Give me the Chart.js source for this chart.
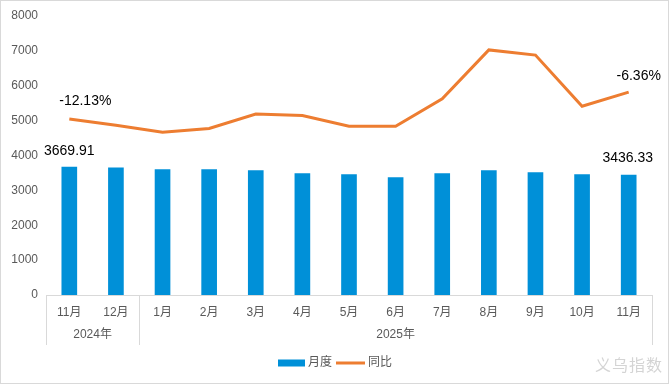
<!DOCTYPE html>
<html>
<head>
<meta charset="utf-8">
<script src="https://cdn.jsdelivr.net/npm/chart.js@4.4.1/dist/chart.umd.min.js"></script>
<style>
  html,body{margin:0;padding:0;background:#fff;}
  #wrap{position:relative;width:669px;height:384px;box-sizing:border-box;border:1px solid #d9d9d9;}
  #c{display:block;}
  #mark{position:absolute;left:594px;top:351px;font:16px 'Noto Sans CJK SC',sans-serif;color:#d4d4d4;letter-spacing:1px;}
</style>
</head>
<body>
<div id="wrap">
  <canvas id="c" width="667" height="382"></canvas>
  <div id="mark">义乌指数</div>
</div>
<script>
const months = ["11月","12月","1月","2月","3月","4月","5月","6月","7月","8月","9月","10月","11月"];
const years = [{label:"2024年", from:0, to:1}, {label:"2025年", from:2, to:12}];
const monthly = [3669.91,3650,3597,3597,3568,3482,3453,3367,3482,3568,3511,3453,3436.33];
const yoy = [-12.13,-13.5,-15.0,-14.2,-11.1,-11.4,-13.7,-13.7,-7.8,2.7,1.6,-9.4,-6.36];
const yTicks = [0,1000,2000,3000,4000,5000,6000,7000,8000];

const FONT = "'Liberation Sans','Noto Sans CJK SC',sans-serif";
const grey = "#d9d9d9";

const extras = {
  id:"extras",
  afterDraw(chart){
    const ctx = chart.ctx;
    const x = chart.scales.x, area = chart.chartArea;
    const step = x.getPixelForValue(1) - x.getPixelForValue(0);
    ctx.save();
    // group separators
    ctx.strokeStyle = grey; ctx.lineWidth = 1;
    const bounds = [area.left, x.getPixelForValue(1) + step/2, area.right];
    bounds.forEach(b => {
      const bx = Math.round(b) + 0.5;
      ctx.beginPath(); ctx.moveTo(bx, area.bottom); ctx.lineTo(bx, area.bottom + 50); ctx.stroke();
    });
    // year labels
    ctx.fillStyle = "#595959"; ctx.font = "12px " + FONT;
    ctx.textAlign = "center"; ctx.textBaseline = "middle";
    years.forEach(g => {
      const cx = (x.getPixelForValue(g.from) + x.getPixelForValue(g.to)) / 2;
      ctx.fillText(g.label, cx, area.bottom + 40);
    });
    // legend
    const ds = chart.data.datasets;
    const w1 = ctx.measureText(ds[0].label).width, w2 = ctx.measureText(ds[1].label).width;
    const total = 27 + 3 + w1 + 4 + 29 + 3 + w2;
    let lx = Math.round(chart.width/2 - total/2) + 1;
    const ly = area.bottom + 68;
    ctx.textAlign = "left";
    ctx.fillStyle = ds[0].backgroundColor;
    ctx.fillRect(lx, ly - 3.5, 27, 7);
    lx += 30;
    ctx.fillStyle = "#595959";
    ctx.fillText(ds[0].label, lx, ly);
    lx += w1 + 4;
    ctx.strokeStyle = ds[1].borderColor; ctx.lineWidth = 3;
    ctx.beginPath(); ctx.moveTo(lx, ly); ctx.lineTo(lx + 29, ly); ctx.stroke();
    lx += 32;
    ctx.fillText(ds[1].label, lx, ly);
    // data labels
    ctx.textAlign = "center";
    ctx.fillStyle = "#000"; ctx.font = "14px " + FONT;
    const bars = chart.getDatasetMeta(0).data;
    const pts = chart.getDatasetMeta(1).data;
    const last = monthly.length - 1;
    ctx.fillText(monthly[0].toFixed(2), bars[0].x, bars[0].y - 16);
    ctx.fillText(monthly[last].toFixed(2), bars[last].x - 1, bars[last].y - 17);
    ctx.fillText(yoy[0].toFixed(2) + "%", pts[0].x + 16, pts[0].y - 18);
    ctx.fillText(yoy[last].toFixed(2) + "%", pts[last].x + 10, pts[last].y - 16);
    ctx.restore();
  }
};

new Chart(document.getElementById("c"), {
  type:"bar",
  data:{
    labels:months,
    datasets:[
      {label:"月度", data:monthly, backgroundColor:"#0090d8", barThickness:15, yAxisID:"y", order:2},
      {label:"同比", type:"line", data:yoy, borderColor:"#ed7d31", backgroundColor:"#ed7d31",
       borderWidth:3, pointRadius:0, tension:0, yAxisID:"y1", order:1}
    ]
  },
  options:{
    responsive:false,
    animation:false,
    layout:{padding:{left:0, top:15, right:16, bottom:38}},
    plugins:{
      legend:{display:false},
      tooltip:{enabled:false}
    },
    scales:{
      x:{
        grid:{display:false},
        border:{color:grey},
        ticks:{color:"#595959", font:{size:12, family:FONT}, padding:2, maxRotation:0, autoSkip:false},
        afterFit(s){ s.height = 50; }
      },
      y:{
        min:0, max:8000,
        grid:{display:false},
        border:{display:false},
        afterBuildTicks(s){ s.ticks = yTicks.map(v => ({value:v})); },
        ticks:{color:"#595959", font:{size:12, family:FONT}, padding:0, callback:v => String(v)},
        afterFit(s){ s.width = 45; }
      },
      y1:{min:-50, max:10, display:false}
    }
  },
  plugins:[extras]
});
</script>
</body>
</html>
